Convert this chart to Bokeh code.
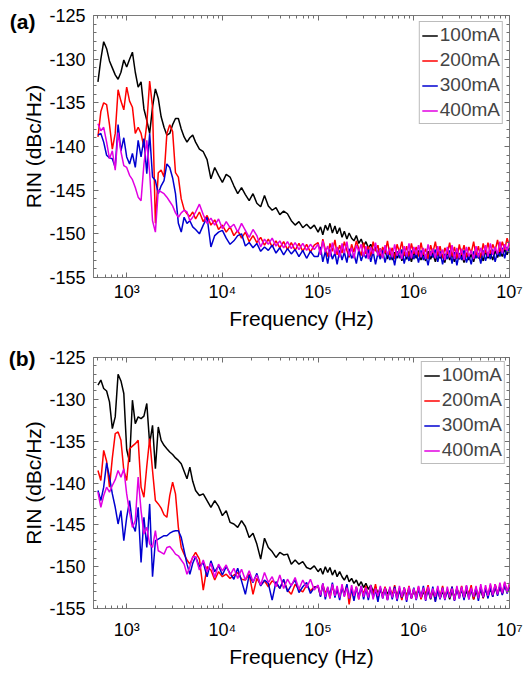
from bokeh.plotting import figure
from bokeh.models import (LogAxis, LinearAxis, FixedTicker, CustomJSTickFormatter,
                          Legend, LegendItem, Range1d)
from bokeh.layouts import column
from bokeh.embed import file_html
from bokeh.resources import INLINE

FONT = "Liberation Sans"

# ---------------- data ----------------
LABELS = ["100mA", "200mA", "300mA", "400mA"]
COLORS = ["#000000", "#ff0000", "#0000d0", "#e200e2"]

X_MIN, X_MAX = 450, 1.0e7
Y_MIN, Y_MAX = -155, -125
X_TICKS = [1e3, 1e4, 1e5, 1e6, 1e7]
Y_TICKS = [-155, -150, -145, -140, -135, -130, -125]

F_LOW = [501, 537, 575, 617, 661, 708, 759, 813, 871, 933,
         1000, 1072, 1148, 1230, 1318, 1413, 1514, 1622, 1738, 1862,
         1995, 2138, 2291, 2455, 2630, 2818, 3020, 3236, 3467, 3715,
         3981, 4266, 4571, 4898]
F_MID = [5248, 5754, 6310, 6918, 7586, 8318, 9120, 10000, 10965, 12023,
         13183, 14454, 15849, 17378, 19055, 20893, 22909, 25119, 27542, 30200,
         33113, 36308, 39811, 43652, 47863, 52481, 57544, 63096, 69183, 75858,
         83176, 91201]
F_HIGH = [1.00e5, 1.06e5, 1.12e5, 1.19e5, 1.26e5, 1.33e5, 1.41e5, 1.50e5, 1.58e5, 1.68e5,
          1.78e5, 1.88e5, 2.00e5, 2.11e5, 2.24e5, 2.37e5, 2.51e5, 2.66e5, 2.82e5, 2.99e5,
          3.16e5, 3.35e5, 3.55e5, 3.76e5, 3.98e5, 4.22e5, 4.47e5, 4.73e5, 5.01e5, 5.31e5,
          5.62e5, 5.96e5, 6.31e5, 6.68e5, 7.08e5, 7.50e5, 7.94e5, 8.41e5, 8.91e5, 9.44e5,
          1.00e6, 1.06e6, 1.12e6, 1.19e6, 1.26e6, 1.33e6, 1.41e6, 1.50e6, 1.58e6, 1.68e6,
          1.78e6, 1.88e6, 2.00e6, 2.11e6, 2.24e6, 2.37e6, 2.51e6, 2.66e6, 2.82e6, 2.99e6,
          3.16e6, 3.35e6, 3.55e6, 3.76e6, 3.98e6, 4.22e6, 4.47e6, 4.73e6, 5.01e6, 5.31e6,
          5.62e6, 5.96e6, 6.31e6, 6.68e6, 7.08e6, 7.50e6, 7.94e6, 8.41e6, 8.91e6, 9.44e6,
          1.00e7]
FREQ = F_LOW + F_MID + F_HIGH

# panel (a)
A_100 = [
    -132.6, -130.0, -128.0, -128.8, -130.2, -131.0, -131.8, -132.3, -131.5, -130.1,
    -130.9, -130.0, -129.2, -131.5, -133.2, -132.6, -135.7, -137.0, -138.5, -135.5,
    -133.4, -134.5, -136.6, -137.8, -138.7, -138.5, -137.5, -136.8, -136.8, -138.0,
    -138.9, -139.5, -139.0, -138.7,
    -139.5, -140.3, -140.6, -141.5, -143.7, -142.4, -143.3, -144.1, -143.2, -143.5,
    -144.5, -145.4, -144.7, -145.5, -146.2, -145.4, -146.5, -146.9, -145.6, -146.8,
    -147.3, -147.0, -147.8, -147.4, -147.7, -148.5, -149.0, -148.6, -149.3, -148.9,
    -149.4, -149.0,
    -149.8, -149.2, -150.1, -149.0, -149.6, -148.8, -149.9, -149.1, -150.0, -149.3,
    -150.4, -149.7, -150.6, -149.9, -150.5, -150.8, -150.2, -151.1, -150.6, -151.4,
    -150.9, -151.6, -151.2, -152.0, -151.5, -152.3, -151.7, -152.5, -151.9, -152.9,
    -151.9, -153.0, -152.1, -152.8, -151.8, -153.1, -152.2, -152.9, -152.0, -153.2,
    -152.1, -152.8, -151.9, -153.0, -152.3, -153.1, -152.0, -152.9, -152.2, -153.2,
    -152.1, -152.8, -152.4, -153.3, -152.0, -153.0, -152.3, -153.2, -152.1, -152.9,
    -152.4, -153.3, -152.2, -153.0, -152.3, -153.2, -152.1, -152.8, -152.3, -153.1,
    -152.0, -152.8, -152.2, -153.0, -151.9, -152.7, -152.0, -152.6, -151.8, -152.4,
    -151.6]
A_200 = [
    -138.9, -136.0, -135.0, -135.2, -137.5, -140.3, -138.5, -133.5, -134.8, -135.8,
    -133.2, -134.8, -135.5, -138.5, -137.8, -138.5, -140.1, -137.4, -132.5, -135.5,
    -148.8, -143.0, -142.7, -143.5, -138.5, -137.5, -138.3, -143.0, -143.5, -146.0,
    -147.2, -147.7, -148.0, -147.5,
    -148.3, -147.5, -148.6, -147.9, -149.0, -148.4, -149.5, -149.0, -149.8, -149.2,
    -150.2, -149.6, -150.5, -149.8, -150.9, -150.2, -151.0, -150.4, -151.3, -150.6,
    -151.5, -150.8, -151.6, -150.9, -151.8, -151.0, -151.9, -151.1, -152.0, -151.2,
    -152.1, -151.3,
    -151.0, -152.3, -150.6, -151.8, -152.6, -151.1, -152.0, -150.7, -152.4, -151.3,
    -152.2, -150.9, -151.9, -152.7, -151.2, -152.1, -150.8, -151.7, -152.5, -151.0,
    -152.3, -151.4, -152.6, -150.9, -152.0, -151.3, -152.8, -151.5, -152.2, -150.8,
    -152.4, -151.6, -152.9, -151.2, -152.1, -150.9, -152.5, -151.4, -152.7, -151.1,
    -152.3, -151.5, -152.6, -151.0, -152.4, -151.7, -152.9, -151.3, -152.2, -150.9,
    -152.5, -151.4, -152.8, -151.6, -152.3, -151.0, -152.6, -151.5, -152.9, -151.2,
    -152.4, -151.3, -152.7, -151.5, -152.2, -150.9, -152.5, -151.4, -152.8, -151.1,
    -152.2, -151.0, -152.3, -151.2, -151.9, -150.7, -152.1, -150.9, -151.8, -150.5,
    -151.4]
A_300 = [
    -138.7, -138.5, -139.5, -141.0, -141.3, -141.4, -142.4, -137.5, -140.5, -139.0,
    -141.2, -142.0, -140.8, -142.4, -139.3, -141.2, -139.1, -143.1, -138.5, -143.5,
    -143.9, -145.4, -144.5, -143.9, -142.0, -142.4, -143.6, -145.4, -148.8, -149.8,
    -148.1, -148.8, -148.5, -149.2,
    -149.5, -150.0, -149.0, -148.1, -151.5, -150.2, -149.8, -149.6, -150.5, -151.2,
    -150.8, -150.2, -150.0, -151.4, -151.0, -151.6, -151.1, -152.0, -151.5, -151.9,
    -151.3, -152.2, -151.6, -152.4, -151.7, -152.3, -151.8, -152.6, -151.9, -152.8,
    -152.0, -152.6,
    -152.6, -151.5, -153.2, -152.0, -153.4, -151.8, -152.9, -152.2, -153.5, -151.9,
    -153.0, -152.1, -153.3, -151.7, -152.8, -152.3, -153.4, -151.9, -153.1, -152.2,
    -152.8, -151.8, -153.2, -152.0, -153.5, -152.2, -152.9, -151.9, -153.3, -152.1,
    -153.0, -152.3, -153.6, -152.0, -152.8, -151.8, -153.4, -152.2, -153.1, -151.9,
    -152.9, -152.1, -153.3, -151.9, -153.0, -152.4, -153.6, -152.0, -152.7, -151.8,
    -153.2, -152.0, -153.5, -152.3, -152.9, -151.9, -153.4, -152.1, -153.6, -152.2,
    -153.0, -151.9, -153.3, -152.4, -153.5, -152.0, -152.8, -152.2, -153.4, -151.9,
    -153.1, -152.1, -152.9, -151.8, -153.2, -152.0, -152.6, -151.6, -152.8, -151.5,
    -152.2]
A_400 = [
    -137.4, -138.2, -137.8, -139.5, -141.4, -140.5, -142.7, -138.4, -140.6, -142.2,
    -142.4, -143.3, -143.8, -144.7, -145.8, -146.2, -142.0, -139.3, -143.0, -148.5,
    -149.8, -145.0, -145.2, -145.4, -145.8, -146.3, -146.8, -147.6, -148.1, -147.6,
    -147.3, -147.5, -148.5, -148.1,
    -147.5, -146.6, -147.8, -148.8, -148.2, -149.0, -148.3, -149.4, -148.6, -149.3,
    -148.9, -149.8, -148.8, -149.6, -150.4, -149.5, -150.2, -151.5, -150.6, -151.2,
    -150.5, -151.4, -150.8, -151.6, -150.9, -151.7, -151.0, -151.8, -151.1, -151.9,
    -151.2, -151.8,
    -151.2, -152.4, -150.8, -152.1, -151.4, -152.6, -151.0, -152.3, -151.5, -152.7,
    -151.1, -152.2, -150.9, -152.5, -151.6, -152.8, -151.3, -152.0, -151.2, -152.6,
    -151.4, -152.9, -151.5, -152.3, -151.0, -152.5, -151.7, -152.8, -151.3, -152.4,
    -151.6, -152.7, -151.2, -152.5, -151.8, -152.9, -151.4, -152.6, -151.1, -152.8,
    -151.5, -152.4, -151.3, -152.7, -151.6, -152.9, -151.2, -152.5, -151.7, -152.8,
    -151.4, -152.6, -151.8, -153.0, -151.5, -152.7, -151.3, -152.9, -151.6, -152.8,
    -151.7, -153.0, -151.5, -152.6, -151.9, -152.9, -151.4, -152.7, -151.6, -152.5,
    -151.3, -152.6, -151.1, -152.4, -151.5, -152.3, -150.9, -152.2, -151.2, -151.9,
    -150.9]

# panel (b)
B_100 = [
    -128.3, -127.7, -128.7, -129.0, -130.3, -133.5, -132.1, -127.0, -127.8, -129.3,
    -136.0, -137.5, -130.1, -132.9, -132.1, -132.3, -132.0, -130.5, -135.3, -133.1,
    -138.3, -133.3, -134.9, -135.5, -135.9, -136.3, -136.6, -137.0, -137.3, -137.7,
    -138.6, -139.5, -138.1, -139.8,
    -140.9, -141.5, -141.3, -142.1, -142.9, -142.1, -142.8, -143.9, -143.3, -144.7,
    -144.9, -145.3, -144.5, -145.2, -146.5, -146.0, -147.3, -149.1, -146.6, -147.7,
    -148.2, -148.9, -148.3, -148.6, -148.5, -149.7, -149.2, -149.7, -149.4, -150.1,
    -150.3, -149.9,
    -150.6, -150.2, -150.9, -150.0, -150.7, -150.1, -151.0, -150.4, -151.2, -150.6,
    -151.2, -151.6, -151.0, -151.8, -151.4, -152.0, -151.6, -152.3, -151.8, -152.5,
    -152.0, -152.7, -152.2, -153.0, -152.4, -153.2, -152.6, -153.4, -152.5, -153.3,
    -152.7, -153.6, -152.8, -153.5, -152.6, -153.8, -152.9, -153.4, -152.7, -153.7,
    -152.9, -153.5, -152.6, -153.8, -153.0, -153.6, -152.8, -153.9, -152.9, -153.5,
    -152.7, -153.8, -153.0, -153.6, -152.8, -153.9, -152.9, -153.7, -152.6, -153.5,
    -152.8, -153.8, -152.9, -153.6, -152.7, -153.9, -153.0, -153.5, -152.8, -153.7,
    -152.6, -153.5, -152.7, -153.4, -152.5, -153.3, -152.4, -153.2, -152.3, -152.9,
    -152.5]
B_200 = [
    -138.5, -139.7, -136.1, -137.4, -140.5, -137.0, -134.1, -133.9, -134.9, -138.5,
    -139.7, -135.9, -135.6, -135.3, -134.9, -140.5, -141.7, -138.0, -134.7, -138.5,
    -142.1, -142.5, -143.0, -143.8, -144.1, -141.5, -139.9, -141.3, -145.3, -147.7,
    -148.5, -149.2, -149.7, -148.9,
    -148.3, -149.1, -152.8, -150.0, -150.4, -151.6, -150.6, -151.2, -150.9, -151.4,
    -151.0, -150.7, -151.5, -151.6, -150.9, -153.3, -151.4, -152.2, -151.7, -152.4,
    -151.7, -152.0, -152.6, -151.6, -152.8, -153.3, -152.1, -152.7, -153.0, -152.2,
    -152.9, -152.4,
    -152.4, -153.5, -152.1, -153.2, -152.6, -153.8, -152.3, -153.4, -152.8, -153.6,
    -152.5, -153.3, -152.2, -154.5, -152.7, -153.6, -152.4, -153.9, -152.6, -153.2,
    -152.3, -153.7, -152.5, -153.4, -152.1, -153.8, -152.7, -153.5, -152.4, -153.9,
    -152.6, -153.4, -152.2, -153.7, -152.8, -154.0, -152.5, -153.6, -152.3, -153.8,
    -152.7, -153.5, -152.4, -153.9, -152.6, -153.3, -152.2, -153.7, -152.8, -154.1,
    -152.5, -153.6, -152.3, -153.8, -152.7, -153.4, -152.4, -154.0, -152.6, -153.5,
    -152.3, -153.7, -152.5, -153.3, -152.2, -153.9, -152.6, -153.5, -152.4, -153.8,
    -152.6, -153.4, -152.2, -153.6, -152.1, -153.2, -152.3, -153.3, -151.9, -153.0,
    -152.2]
B_300 = [
    -140.9, -142.1, -140.5, -137.6, -139.3, -141.3, -142.9, -144.9, -143.3, -146.9,
    -144.1, -142.1, -144.9, -145.8, -142.9, -149.5, -144.1, -147.7, -142.5, -151.2,
    -146.9, -146.7, -146.5, -146.3, -146.3, -146.0, -145.8, -145.7, -145.7, -146.5,
    -148.1, -149.7, -150.9, -149.6,
    -148.8, -150.0, -149.5, -151.2, -149.3, -150.6, -149.9, -151.0, -150.0, -150.8,
    -151.5, -150.2, -151.7, -153.3, -151.0, -151.9, -150.8, -152.3, -151.6, -152.0,
    -154.0, -151.8, -152.6, -151.5, -153.0, -152.2, -151.6, -153.1, -152.4, -151.9,
    -153.2, -152.5,
    -152.3, -153.6, -152.0, -153.9, -152.5, -153.4, -151.9, -153.7, -152.6, -154.0,
    -152.4, -153.5, -152.1, -153.8, -152.7, -154.1, -152.5, -153.6, -152.3, -153.9,
    -152.6, -154.0, -152.4, -153.7, -152.8, -154.2, -152.5, -153.8, -152.7, -154.0,
    -152.6, -153.9, -152.4, -154.1, -152.8, -153.7, -152.5, -154.2, -152.6, -153.8,
    -152.5, -154.0, -152.7, -153.6, -152.3, -154.1, -152.6, -153.8, -152.4, -154.2,
    -152.7, -153.9, -152.5, -154.0, -152.8, -153.7, -152.4, -154.1, -152.6, -153.8,
    -152.5, -154.0, -152.3, -153.9, -152.7, -153.6, -152.5, -154.1, -152.4, -153.7,
    -152.6, -153.8, -152.4, -153.6, -152.2, -153.5, -152.3, -153.4, -152.1, -153.2,
    -152.4]
B_400 = [
    -141.1, -142.9, -141.5, -140.5, -141.1, -140.3, -139.6, -138.5, -139.3, -138.3,
    -141.3, -143.5, -145.3, -144.5, -139.3, -143.3, -146.1, -145.3, -147.3, -147.7,
    -145.7, -148.1, -148.3, -148.5, -147.7, -147.6, -148.0, -148.5, -148.7, -149.2,
    -149.7, -150.9, -150.0, -148.8,
    -148.8, -150.4, -149.2, -150.6, -149.6, -151.3, -149.7, -150.5, -149.8, -151.0,
    -150.2, -151.4, -150.3, -151.6, -150.5, -151.8, -151.0, -152.2, -150.7, -151.9,
    -151.2, -152.4, -151.0, -152.6, -151.5, -152.3, -151.3, -152.7, -151.6, -152.5,
    -151.5, -152.8,
    -152.2, -153.4, -152.0, -153.6, -152.4, -153.8, -152.1, -153.5, -152.3, -153.7,
    -152.1, -153.6, -152.5, -153.8, -152.2, -153.5, -152.4, -153.9, -152.3, -153.6,
    -152.5, -153.7, -152.2, -153.9, -152.6, -153.5, -152.3, -153.8, -152.5, -154.0,
    -152.4, -153.7, -152.6, -153.9, -152.3, -153.6, -152.5, -154.0, -152.4, -153.8,
    -152.6, -153.9, -152.3, -153.7, -152.5, -154.0, -152.4, -153.8, -152.6, -153.6,
    -152.3, -153.8, -152.5, -153.9, -152.4, -153.7, -152.6, -154.0, -152.3, -153.8,
    -152.4, -153.7, -152.2, -153.9, -152.5, -153.6, -152.3, -153.8, -152.1, -153.6,
    -152.2, -153.5, -152.0, -153.4, -152.1, -153.3, -151.9, -153.2, -151.8, -153.1,
    -151.9]

PANEL_A = [A_100, A_200, A_300, A_400]
PANEL_B = [B_100, B_200, B_300, B_400]

# ---------------- drawing ----------------
SUP_CODE = """
const sup = ["\u2070","\u00b9","\u00b2","\u00b3","\u2074","\u2075","\u2076","\u2077","\u2078","\u2079"];
const e = Math.round(Math.log10(tick));
return "10" + String(e).split("").map(c => sup[parseInt(c)]).join("");
"""
X_MINOR = [m * 10 ** e for e in range(2, 7) for m in range(2, 10)]
Y_MINOR = list(range(Y_MIN, Y_MAX + 1))
TICK_COLOR = "#6e6e6e"


def style_ticks(ax):
    ax.major_tick_in = 5
    ax.major_tick_out = 0
    ax.minor_tick_in = 3
    ax.minor_tick_out = 0
    ax.major_tick_line_color = TICK_COLOR
    ax.minor_tick_line_color = TICK_COLOR
    ax.axis_line_color = None


def make_panel(tag, tag_y, series, height, border_top, border_bottom,
               tick_std, lab_std, leg_margin):
    p = figure(width=528, height=height, x_axis_type="log",
               x_range=Range1d(X_MIN, X_MAX), y_range=Range1d(Y_MIN, Y_MAX),
               output_backend="svg", toolbar_location=None,
               min_border_left=93, min_border_right=19,
               min_border_top=border_top, min_border_bottom=border_bottom)
    p.grid.visible = False
    p.outline_line_color = "#7a7a7a"
    p.outline_line_width = 1
    p.background_fill_color = "white"
    p.border_fill_color = "white"

    xt = FixedTicker(ticks=X_TICKS, minor_ticks=X_MINOR)
    yt = FixedTicker(ticks=Y_TICKS, minor_ticks=Y_MINOR)

    xa = p.xaxis[0]
    xa.ticker = xt
    xa.formatter = CustomJSTickFormatter(code=SUP_CODE)
    xa.axis_label = "Frequency (Hz)"
    ya = p.yaxis[0]
    ya.ticker = yt
    ya.formatter = CustomJSTickFormatter(code="return tick.toFixed(0);")
    ya.axis_label = "RIN (dBc/Hz)"
    for ax in (xa, ya):
        style_ticks(ax)
        ax.major_label_text_font = FONT
        ax.major_label_text_font_size = "18px"
        ax.major_label_text_color = "black"
        ax.axis_label_text_font = FONT
        ax.axis_label_text_font_size = "21px"
        ax.axis_label_text_font_style = "normal"
        ax.axis_label_text_color = "black"
    xa.major_label_standoff = tick_std
    xa.axis_label_standoff = lab_std
    ya.major_label_standoff = 8
    ya.axis_label_standoff = 1

    blank = "return '';"
    top = LogAxis(ticker=xt, formatter=CustomJSTickFormatter(code=blank),
                  major_label_text_font_size="0px", major_label_standoff=0)
    right = LinearAxis(ticker=yt, formatter=CustomJSTickFormatter(code=blank),
                       major_label_text_font_size="0px", major_label_standoff=0)
    style_ticks(top)
    style_ticks(right)
    p.add_layout(top, "above")
    p.add_layout(right, "right")

    # panel tag "(a)" / "(b)" drawn as the label of an outer left axis
    tag_axis = LinearAxis(ticker=FixedTicker(ticks=[tag_y]),
                          formatter=CustomJSTickFormatter(code="return '%s';" % tag),
                          major_label_text_font=FONT,
                          major_label_text_font_style="bold",
                          major_label_text_font_size="21px",
                          major_label_text_color="black",
                          major_label_standoff=-16,
                          major_tick_in=0, major_tick_out=0,
                          minor_tick_in=0, minor_tick_out=0,
                          major_tick_line_color=None, minor_tick_line_color=None,
                          axis_line_color=None)
    p.add_layout(tag_axis, "left")

    items = []
    for lab, col, vals in zip(LABELS, COLORS, series):
        n = min(len(FREQ), len(vals))
        r = p.line(FREQ[:n], vals[:n], line_color=col, line_width=1.5)
        items.append(LegendItem(label=lab, renderers=[r]))

    leg = Legend(items=items, location="top_right",
                 label_text_font=FONT, label_text_font_size="19px",
                 glyph_width=16, glyph_height=21, label_height=21,
                 label_standoff=2, spacing=3, padding=2, margin=leg_margin,
                 border_line_color="#7a7a7a", border_line_width=1,
                 background_fill_color="white", background_fill_alpha=1.0)
    p.add_layout(leg)
    return p


pa = make_panel("(a)", -125.7, PANEL_A, 340, 15, 63, 4, 2, 6)
pb = make_panel("(b)", -125.1, PANEL_B, 334, 17, 66, 11, 2, 4)

layout = column(pa, pb, spacing=0)
open("out.html", "w", encoding="utf-8").write(file_html(layout, INLINE))
